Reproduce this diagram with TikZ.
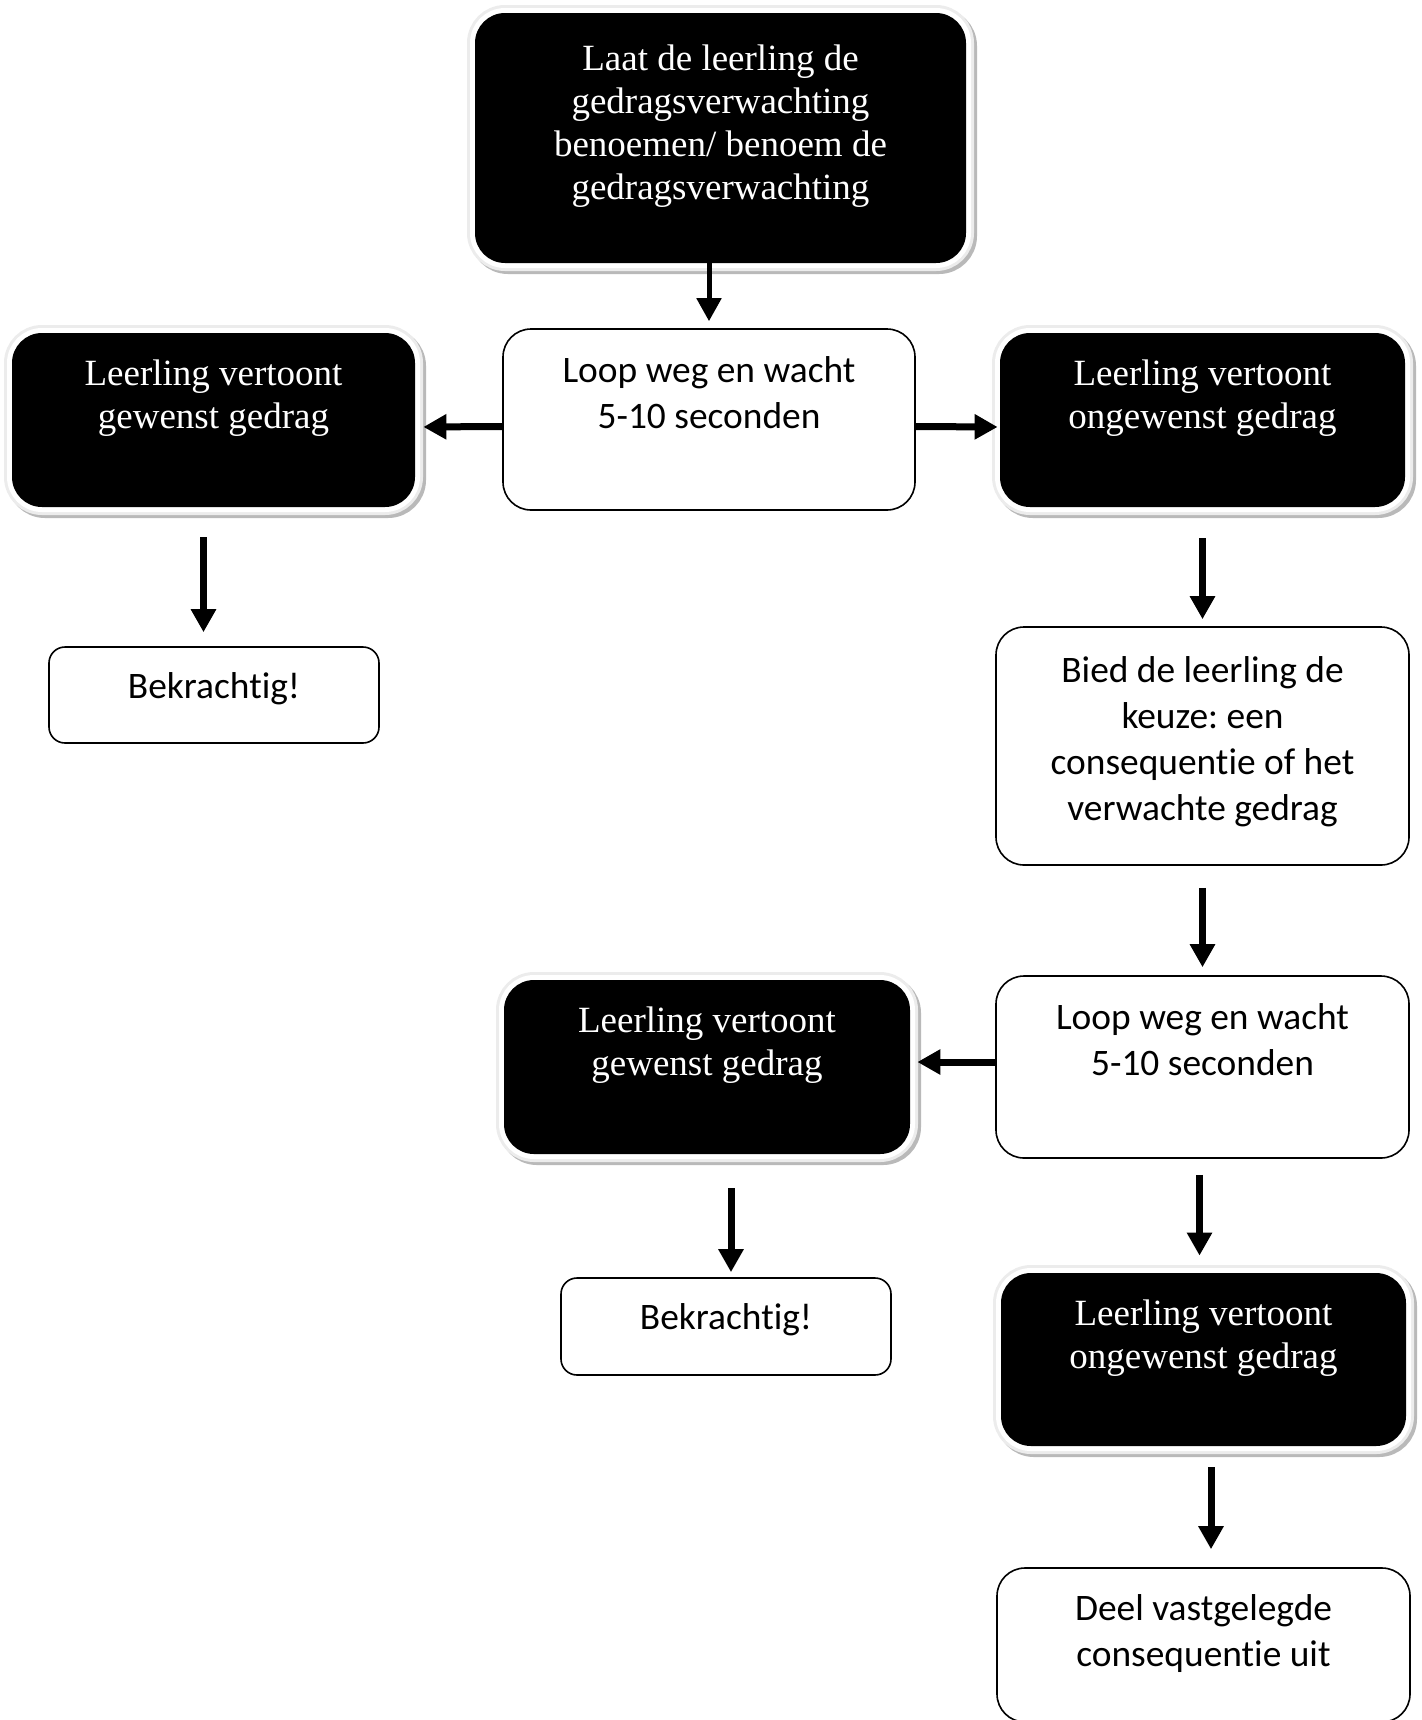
\documentclass[tikz,border=0pt]{standalone}
\usepackage{fontspec}
\setmainfont{Liberation Serif}
\newfontfamily\calibri[Ligatures={NoCommon}]{Carlito}
\usetikzlibrary{fit,arrows.meta,calc}
\frenchspacing
\begin{document}
\begin{tikzpicture}[x=0.5pt,y=-0.5pt,
  blackbox/.style={fit={#1}, inner sep=0pt, fill=black, rounded corners=15pt,
    preaction={draw=gray!55, line width=8pt, transform canvas={shift={(1.5pt,-1.5pt)}}},
    preaction={draw=gray!15, line width=8pt},
    preaction={draw=white, line width=5pt}},
  whitebox/.style={fit={#1}, inner sep=0pt, fill=white, draw=black, line width=0.8pt, rounded corners=14pt},
  smallbox/.style={fit={#1}, inner sep=0pt, fill=white, draw=black, line width=0.8pt, rounded corners=8pt},
  stext/.style={anchor=north, inner sep=0pt, align=center, text=white,
    font={\fontsize{18.5pt}{21.4pt}\selectfont}},
  ctext/.style={anchor=north, inner sep=0pt, align=center, text=black,
    font={\calibri\fontsize{18.7pt}{23pt}\selectfont}},
  arr/.style={-{Triangle[width=12pt,length=11.5pt]}, line width=3.5pt}
]
\useasboundingbox (0,0) rectangle (1421,1720);

% boxes
\node[blackbox={(475,13)(966,263)}] (top) {};
\node[whitebox={(503,329)(915,510)}] (loop1) {};
\node[blackbox={(12,333)(415,507)}] (lb1) {};
\node[blackbox={(1000,333)(1405,507)}] (rb1) {};
\node[smallbox={(49,647)(379,743)}] (bk1) {};
\node[whitebox={(996,627)(1409,865)}] (bied) {};
\node[whitebox={(996,976)(1409,1158)}] (loop2) {};
\node[blackbox={(504,980)(910,1154)}] (lb2) {};
\node[smallbox={(561,1278)(891,1375)}] (bk2) {};
\node[blackbox={(1001,1273)(1406,1446)}] (rb3) {};
\node[whitebox={(997,1568)(1410,1722)}] (deel) {};

% texts
\node[stext] (ttop) at ($(top.north)+(0,32)$) {Laat de leerling de\\gedragsverwachting\\benoemen/ benoem de\\gedragsverwachting};
\node[ctext] (tloop1) at ($(loop1.north)+(0,28)$) {Loop weg en wacht\\5-10 seconden};
\node[stext] (tlb1) at ($(lb1.north)+(0,27)$) {Leerling vertoont\\gewenst gedrag};
\node[stext] (trb1) at ($(rb1.north)+(0,27)$) {Leerling vertoont\\ongewenst gedrag};
\node[ctext] (tbk1) at ($(bk1.north)+(0,26)$) {Bekrachtig!};
\node[ctext] (tbied) at ($(bied.north)+(0,30)$) {Bied de leerling de\\keuze: een\\consequentie of het\\verwachte gedrag};
\node[ctext] (tloop2) at ($(loop2.north)+(0,28)$) {Loop weg en wacht\\5-10 seconden};
\node[stext] (tlb2) at ($(lb2.north)+(0,27)$) {Leerling vertoont\\gewenst gedrag};
\node[ctext] (tbk2) at ($(bk2.north)+(0,26)$) {Bekrachtig!};
\node[stext] (trb3) at ($(rb3.north)+(0,27)$) {Leerling vertoont\\ongewenst gedrag};
\node[ctext] (tdeel) at ($(deel.north)+(0,27)$) {Deel vastgelegde\\consequentie uit};

% arrows
\draw[arr, line width=2.5pt, shorten >=3.5pt] (top.south -| loop1.north) -- (loop1.north);
\draw[arr, shorten >=4pt] ([yshift=-3.5pt]loop1.west) -- ([yshift=-3.5pt]lb1.east);
\draw[arr, shorten >=1pt] ([yshift=-3.5pt]loop1.east) -- ([yshift=-3.5pt]rb1.west);
\draw[arr, shorten <=15pt, shorten >=7pt] ([xshift=-5pt]lb1.south) -- ([xshift=-5pt]lb1.south |- bk1.north);
\draw[arr, shorten <=15.5pt, shorten >=3.5pt] (rb1.south) -- (bied.north);
\draw[arr, shorten <=11pt, shorten >=4pt] (bied.south) -- (loop2.north);
\draw[arr, shorten >=3.5pt] ([yshift=2.5pt]loop2.west) -- ([yshift=2.5pt]lb2.east);
\draw[arr, shorten <=17pt, shorten >=2.5pt] ([xshift=2.5pt]lb2.south -| bk2.north) -- ([xshift=2.5pt]bk2.north);
\draw[arr, shorten <=8pt, shorten >=8.5pt] ([xshift=-1.5pt]loop2.south) -- ([xshift=-1.5pt]loop2.south |- rb3.north);
\draw[arr, shorten <=10.5pt, shorten >=9pt] ([xshift=3.75pt]rb3.south) -- ([xshift=3.75pt]deel.north);
\end{tikzpicture}
\end{document}
